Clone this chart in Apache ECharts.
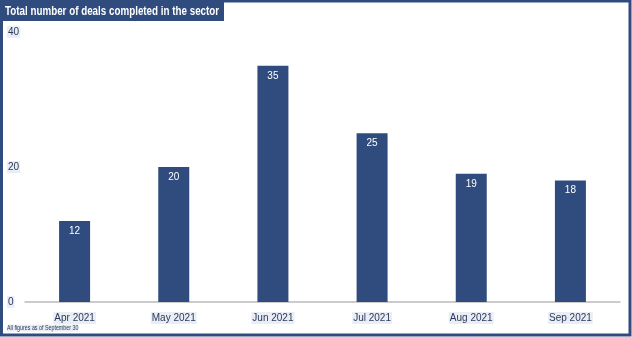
<!DOCTYPE html>
<html><head><meta charset="utf-8">
<script src="https://cdn.jsdelivr.net/npm/echarts@6/dist/echarts.min.js"></script>
<style>html,body{margin:0;padding:0;background:#fff}#c{width:632px;height:337px}</style>
</head><body><div id="c"></div>
<script>
const categories = ['Apr 2021','May 2021','Jun 2021','Jul 2021','Aug 2021','Sep 2021'];
const deals = [12, 20, 35, 25, 19, 18];
const yTicks = [0, 20, 40];
const titleText = 'Total number of deals completed in the sector';
const footText = 'All figures as of September 30';
const navy = '#304c7e';
const labelBg = '#e9edf4';
const ff = '"Liberation Sans", Arial, sans-serif';
const chart = echarts.init(document.getElementById('c'));
chart.setOption({
  animation: false,
  grid: {left: 25, right: 12, top: 32, bottom: 35},
  xAxis: {
    type: 'category', data: categories,
    axisLine: {lineStyle: {color: '#bbbbbb', width: 1.5}},
    axisTick: {show: false},
    axisLabel: {color: '#2b3a5a', fontFamily: ff, fontSize: 10, margin: 10,
      backgroundColor: labelBg, padding: [1, 1]}
  },
  yAxis: {
    type: 'value', min: 0, max: 40, interval: 20,
    splitLine: {show: false},
    axisLine: {show: false}, axisTick: {show: false},
    axisLabel: {color: '#2b3a5a', fontFamily: ff, fontSize: 10,
      align: 'left', margin: 18, backgroundColor: labelBg, padding: [1, 1],
      formatter: v => yTicks.includes(v) ? String(v) : ''}
  },
  series: [{
    type: 'bar', data: deals, barWidth: 31,
    itemStyle: {color: navy},
    label: {show: true, position: 'insideTop', distance: 5, color: '#fff',
      fontFamily: ff, fontSize: 10}
  }],
  graphic: [
    {type: 'rect', shape: {x: 0, y: 0, width: 224, height: 21}, style: {fill: navy}, z: 50},
    {type: 'text', x: 5, y: 11, scaleX: 0.755, z: 51,
      style: {text: titleText, fontSize: 13, fontWeight: 'bold', fontFamily: ff, fill: '#fff', verticalAlign: 'middle'}},
    {type: 'text', x: 7, y: 328, scaleX: 0.82, z: 51,
      style: {text: footText, fontSize: 6.5, fontFamily: ff, fill: '#2b3a5a', backgroundColor: labelBg, verticalAlign: 'middle'}},
    {type: 'rect', shape: {x: 1.5, y: 1, width: 628.5, height: 334}, style: {fill: 'none', stroke: navy, lineWidth: 3}, z: 100}
  ]
});
</script></body></html>
